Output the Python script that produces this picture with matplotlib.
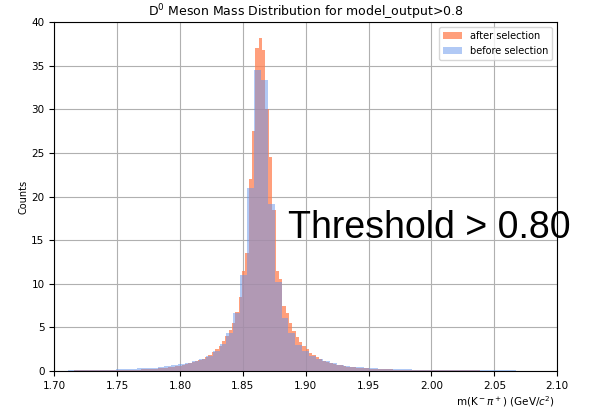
import numpy as np
import matplotlib
matplotlib.use("Agg")
import matplotlib.pyplot as plt

# ---- data ----
x_min, x_max = 1.70, 2.10
n_bins_before = 73
n_bins_after = 150

before_values = [
    0.05, 0.05, 0.06, 0.07, 0.08, 0.09, 0.11, 0.13, 0.15, 0.18,
    0.21, 0.25, 0.29, 0.34, 0.40, 0.47, 0.56, 0.68, 0.80, 0.95,
    1.10, 1.35, 1.70, 2.30, 3.10, 4.30, 6.60, 11.0, 21.0, 34.5,
    33.3, 19.2, 10.2, 6.10, 4.30, 3.00, 2.30, 1.75, 1.35, 1.10,
    0.90, 0.72, 0.60, 0.50, 0.43, 0.37, 0.32, 0.28, 0.25, 0.22,
    0.20, 0.18, 0.16, 0.15, 0.14, 0.12, 0.11, 0.10, 0.09, 0.09,
    0.08, 0.08, 0.07, 0.07, 0.06, 0.06, 0.06, 0.05, 0.05, 0.05,
    0.04, 0.04, 0.04,
]

after_values = [
    0.04, 0.04, 0.05, 0.05, 0.05, 0.05, 0.06, 0.06, 0.06, 0.07,
    0.07, 0.07, 0.08, 0.08, 0.08, 0.09, 0.09, 0.09, 0.10, 0.10,
    0.10, 0.11, 0.12, 0.13, 0.14, 0.16, 0.18, 0.20, 0.22, 0.25,
    0.28, 0.31, 0.35, 0.39, 0.44, 0.49, 0.55, 0.62, 0.70, 0.78,
    0.88, 0.98, 1.10, 1.25, 1.40, 1.60, 1.85, 2.15, 2.50, 2.90,
    3.40, 4.00, 4.70, 5.50, 6.80, 8.50, 11.5, 13.5, 22.0, 27.5,
    37.0, 38.2, 36.8, 30.0, 24.5, 18.5, 11.5, 10.5, 7.50, 6.60,
    5.50, 4.60, 3.90, 3.30, 2.90, 2.50, 2.10, 1.80, 1.55, 1.35,
    1.20, 1.05, 0.92, 0.82, 0.72, 0.64, 0.57, 0.51, 0.46, 0.42,
    0.38, 0.35, 0.32, 0.29, 0.27, 0.25, 0.23, 0.21, 0.20, 0.19,
    0.18, 0.17, 0.16, 0.15, 0.14, 0.13, 0.12, 0.12, 0.11, 0.11,
    0.10, 0.10, 0.09, 0.09, 0.09, 0.08, 0.08, 0.08, 0.07, 0.07,
    0.07, 0.07, 0.06, 0.06, 0.06, 0.06, 0.06, 0.05, 0.05, 0.05,
    0.05, 0.05, 0.05, 0.04, 0.04, 0.04, 0.04, 0.04, 0.04, 0.04,
    0.04, 0.03, 0.03, 0.03, 0.03, 0.03, 0.03, 0.03, 0.03, 0.03,
]

x_ticks = [1.70, 1.75, 1.80, 1.85, 1.90, 1.95, 2.00, 2.05, 2.10]
y_ticks = [0, 5, 10, 15, 20, 25, 30, 35, 40]

edges_before = np.linspace(x_min, x_max, n_bins_before + 1)
edges_after = np.linspace(x_min, x_max, n_bins_after + 1)

fig = plt.figure(figsize=(5.89, 4.12), dpi=100)
ax = fig.add_axes([0.092, 0.0995, 0.854, 0.847])

ax.hist(edges_after[:-1], bins=edges_after, weights=after_values,
        color="coral", alpha=0.75, label="after selection")
ax.hist(edges_before[:-1], bins=edges_before, weights=before_values,
        color="cornflowerblue", alpha=0.5, label="before selection")

ax.set_xlim(x_min, x_max)
ax.set_ylim(0, 40)
ax.set_xticks(x_ticks)
ax.set_yticks(y_ticks)
ax.tick_params(labelsize=7.5)
ax.grid(True, color="#b0b0b0", linewidth=0.8)
ax.set_axisbelow(True)

ax.set_title(r"D$^0$ Meson Mass Distribution for model_output>0.8", fontsize=9, pad=4)
ax.set_ylabel("Counts", fontsize=7)
ax.yaxis.set_label_coords(-0.052, 0.5)
ax.set_xlabel(r"m(K$^-\pi^+$) (GeV/$c^2$)", fontsize=7.5)
ax.xaxis.set_label_coords(0.8966, -0.066)

ax.legend(loc="upper right", fontsize=7)

ax.text(0.465, 0.41, "Threshold > 0.80", transform=ax.transAxes,
        fontsize=27, family="Liberation Sans", va="center", ha="left",
        clip_on=False)

fig.savefig("out.png", dpi=100)
